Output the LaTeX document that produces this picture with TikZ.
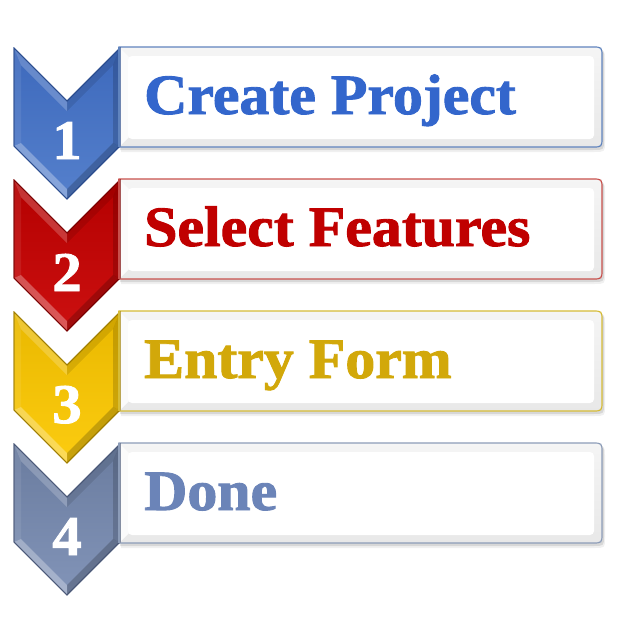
\documentclass[tikz,border=0pt]{standalone}
\usepackage{fontspec}
\setmainfont{Liberation Serif}
\newfontfamily\heavyserif{Liberation Serif}[BoldFeatures={FakeBold=1.6}]
\begin{document}
% colour sets: chevron body, chevron light, chevron edge, title text, box frame
\definecolor{bluebody}{HTML}{3D69BC}
\definecolor{bluelight}{HTML}{5580CC}
\definecolor{blueedge}{HTML}{2A4C8E}
\definecolor{bluetext}{HTML}{3366CC}
\definecolor{blueframe}{HTML}{6084BE}
\definecolor{redbody}{HTML}{B40000}
\definecolor{redlight}{HTML}{CC1010}
\definecolor{rededge}{HTML}{7A0000}
\definecolor{redtext}{HTML}{C00000}
\definecolor{redframe}{HTML}{C8504C}
\definecolor{goldbody}{HTML}{E9B800}
\definecolor{goldlight}{HTML}{FCCC10}
\definecolor{goldedge}{HTML}{A07E00}
\definecolor{goldtext}{HTML}{D2A80A}
\definecolor{goldframe}{HTML}{D6BC36}
\definecolor{greybody}{HTML}{6A7C9F}
\definecolor{greylight}{HTML}{8294B8}
\definecolor{greyedge}{HTML}{4A5878}
\definecolor{greytext}{HTML}{6B84B8}
\definecolor{greyframe}{HTML}{8C9CB8}
\tikzset{
  title/.style={anchor=base west, inner sep=0pt, xscale=1.05,
    font=\heavyserif\bfseries\fontsize{57}{60}\selectfont},
  digit/.style={anchor=base, inner sep=0pt, text=white, xscale=1.05,
    font=\heavyserif\bfseries\fontsize{56}{60}\selectfont},
  lightfacet/.style={fill=white, fill opacity=#1},
  darkfacet/.style={fill=black, fill opacity=#1},
}
% one step: #1 top edge, #2 colour prefix, #3 digit, #4 title, #5 name
\newcommand\steprow[5]{%
  % box shadow
  \fill[black, opacity=0.06] (121,#1+2) -- (594,#1+2) .. controls (605,#1+2) .. (605,#1+12)
      -- (605,#1+94) .. controls (605,#1+104) .. (594,#1+104) -- (121,#1+104) -- cycle;
  \fill[black, opacity=0.10] (120,#1+1) -- (593,#1+1) .. controls (604,#1+1) .. (604,#1+11)
      -- (604,#1+92) .. controls (604,#1+102) .. (593,#1+102) -- (120,#1+102) -- cycle;
  % box with bevelled rim
  \path[draw=#2frame, line width=1.2pt, top color=gray!8, bottom color=gray!18]
    (119,#1-1) -- (592,#1-1) .. controls (602,#1-1) .. (602,#1+9)
      -- (602,#1+89) .. controls (602,#1+99) .. (592,#1+99) -- (119,#1+99) -- cycle;
  \fill[white!97!gray] (121,#1+1) -- (129,#1+9) -- (129,#1+89) -- (121,#1+97) -- cycle;
  \fill[white, rounded corners=4pt] (128,#1+8) rectangle (594,#1+91);
  % chevron body
  \path[top color=#2body, bottom color=#2light, draw=#2edge, line width=0.8pt]
    (14,#1) -- (67,#1+53) -- (120,#1) -- (120,#1+98) -- (67,#1+151) -- (14,#1+98) -- cycle;
  % chevron facets
  \fill[lightfacet=0.20] (14,#1) -- (67,#1+53) -- (67,#1+63) -- (21,#1+17) -- cycle;
  \fill[darkfacet=0.10] (67,#1+53) -- (120,#1) -- (113,#1+17) -- (67,#1+63) -- cycle;
  \fill[darkfacet=0.16] (120,#1) -- (120,#1+98) -- (113,#1+95) -- (113,#1+17) -- cycle;
  \fill[darkfacet=0.20] (120,#1+98) -- (67,#1+151) -- (67,#1+141) -- (113,#1+95) -- cycle;
  \fill[lightfacet=0.30] (67,#1+151) -- (14,#1+98) -- (21,#1+95) -- (67,#1+141) -- cycle;
  \fill[lightfacet=0.08] (14,#1+98) -- (14,#1) -- (21,#1+17) -- (21,#1+95) -- cycle;
  \draw[#2edge, line width=0.8pt]
    (14,#1) -- (67,#1+53) -- (120,#1) -- (120,#1+98) -- (67,#1+151) -- (14,#1+98) -- cycle;
  % box frame redrawn over the chevron's right side
  \draw[#2frame, line width=1.2pt] (119,#1-1) -- (119,#1+99);
  % texts
  \node[digit] (#5num) at (67,#1+111) {#3};
  \node[title, text=#2text] (#5title) at (144,#1+66) {#4};
}
\begin{tikzpicture}[x=1pt, y=-1pt]
  \useasboundingbox (0,0) rectangle (624,624);
  \fill[white] (0,0) rectangle (624,624);
  \steprow{48}{blue}{1}{Create Project}{create}
  \steprow{180}{red}{2}{Select Features}{select}
  \steprow{312}{gold}{3}{Entry Form}{entry}
  \steprow{444}{grey}{4}{Done}{done}
\end{tikzpicture}
\end{document}
